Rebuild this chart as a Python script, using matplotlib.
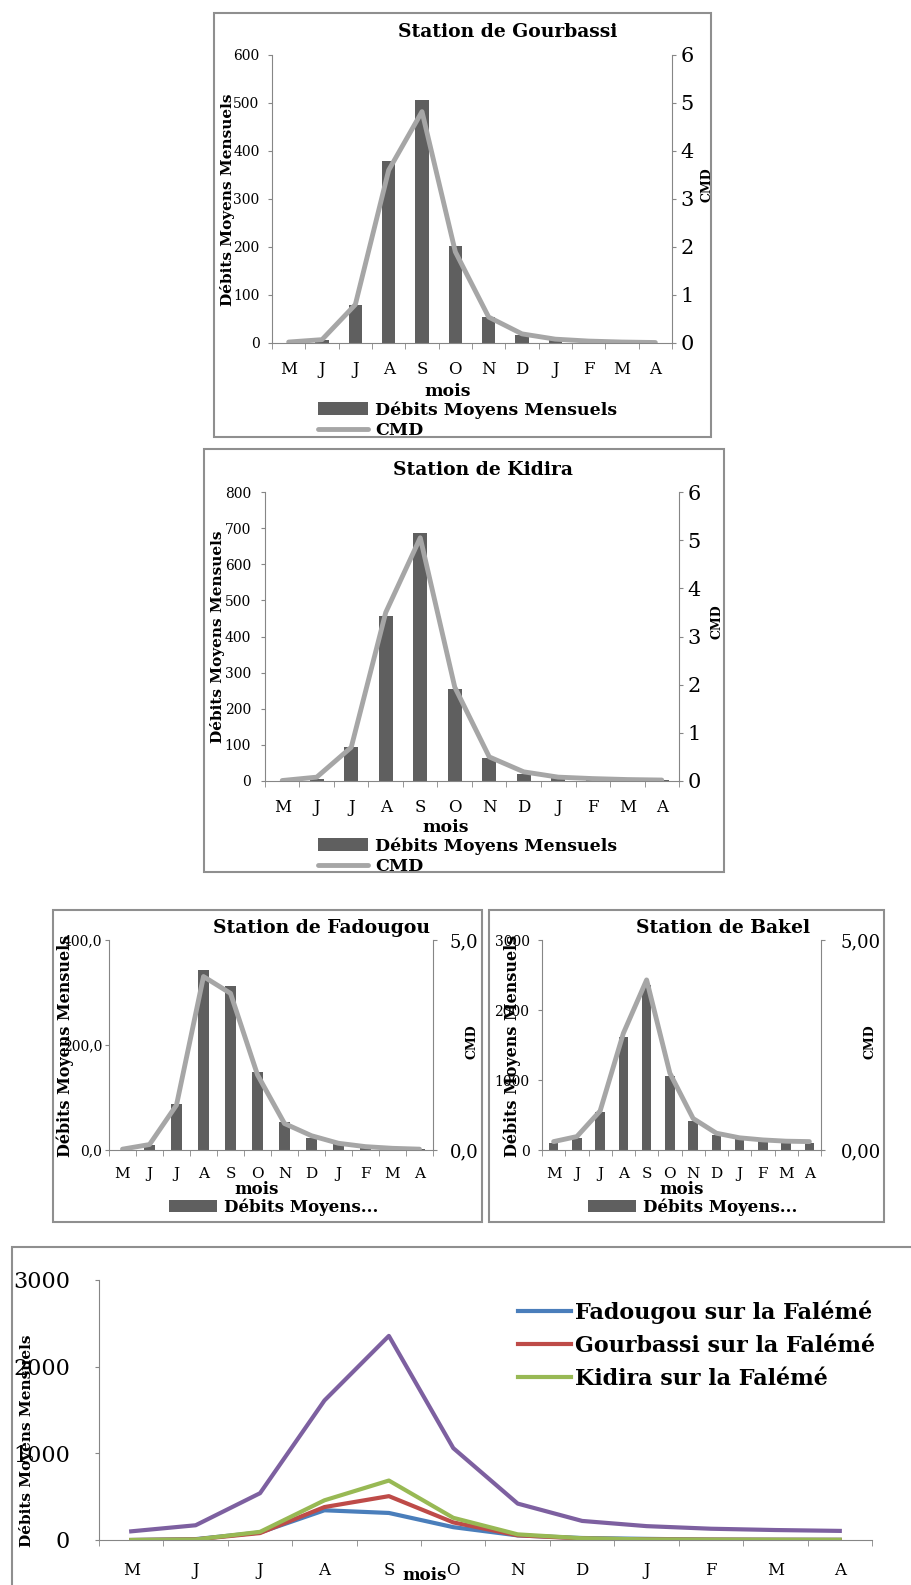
import matplotlib
matplotlib.use("Agg")
import matplotlib.pyplot as plt
from matplotlib.patches import Rectangle

plt.rcParams['font.family'] = ['DejaVu Serif']

# ---- data ----
mois = ['M', 'J', 'J', 'A', 'S', 'O', 'N', 'D', 'J', 'F', 'M', 'A']

q_gourbassi = [0, 7, 80, 380, 506, 203, 54, 17, 7, 4, 2, 1]
cmd_gourbassi = [0.02, 0.07, 0.8, 3.6, 4.82, 1.9, 0.54, 0.19, 0.08, 0.04, 0.02, 0.01]

q_kidira = [0, 6, 94, 458, 686, 256, 65, 20, 7, 4, 3, 2]
cmd_kidira = [0.01, 0.08, 0.7, 3.5, 5.05, 1.95, 0.5, 0.19, 0.08, 0.05, 0.03, 0.02]

q_fadougou = [0, 10, 87, 343, 312, 148, 53, 23, 13, 5, 3, 2]
cmd_fadougou = [0.02, 0.13, 1.07, 4.13, 3.73, 1.79, 0.63, 0.34, 0.16, 0.08, 0.04, 0.02]

q_bakel = [100, 170, 540, 1610, 2355, 1060, 420, 220, 160, 130, 115, 105]
cmd_bakel = [0.2, 0.32, 0.93, 2.78, 4.05, 1.83, 0.75, 0.4, 0.29, 0.24, 0.21, 0.2]

W, H = 912, 1585
fig = plt.figure(figsize=(W / 100, H / 100), dpi=100)

GREY = '#868686'
BAR = '#5f5f5f'
CMDC = '#a6a6a6'


def box(x0, y0, x1, y1):
    return [x0 / W, 1 - y1 / H, (x1 - x0) / W, (y1 - y0) / H]


def frame(x0, y0, x1, y1):
    fig.add_artist(Rectangle((x0 / W, 1 - y1 / H), (x1 - x0) / W, (y1 - y0) / H,
                             transform=fig.transFigure, fill=False, ec='#8f8f8f', lw=1.5))


def txt(x, y, s, size, **kw):
    fig.text(x / W, 1 - y / H, s, fontsize=size, fontweight='bold', va='center', **kw)


def station(rect, q, cmd, qticks, qlabels, cticks, clabels, lsize, rsize, lpad, rpad, msize, mpad, lw):
    ax = fig.add_axes(box(*rect))
    x = range(len(mois))
    bars = ax.bar(x, q, width=0.4, color=BAR, zorder=2)
    ax.set_xlim(-0.5, 11.5)
    ax.set_ylim(qticks[0], qticks[-1])
    ax.set_yticks(qticks)
    ax.set_yticklabels(qlabels)
    ax.set_xticks(list(x))
    ax.set_xticklabels(mois)
    ax.set_xticks([i - 0.5 for i in range(13)], minor=True)
    ax.tick_params(axis='x', which='major', length=0, labelsize=msize, pad=mpad)
    ax.tick_params(axis='x', which='minor', length=4.5, color=GREY, direction='out')
    ax.tick_params(axis='y', length=3, color=GREY, labelsize=lsize, pad=lpad)
    ax.spines['top'].set_visible(False)
    ax.spines['right'].set_visible(False)
    for s in ('left', 'bottom'):
        ax.spines[s].set_color(GREY)
    ax2 = ax.twinx()
    line, = ax2.plot(list(x), cmd, color=CMDC, lw=lw, solid_capstyle='round', solid_joinstyle='round')
    ax2.set_ylim(cticks[0], cticks[-1])
    ax2.set_yticks(cticks)
    ax2.set_yticklabels(clabels)
    ax2.tick_params(axis='y', length=3, color=GREY, labelsize=rsize, pad=rpad)
    for s in ('top', 'left', 'bottom'):
        ax2.spines[s].set_visible(False)
    ax2.spines['right'].set_color(GREY)
    return ax, bars, line


def legend(ax, handles, labels, x, y, size, hl, ls=0.2):
    ax.legend(handles, labels, loc='center left', bbox_to_anchor=(x / W, 1 - y / H),
              bbox_transform=fig.transFigure, frameon=False, borderpad=0, borderaxespad=0,
              handlelength=hl, handletextpad=0.4, labelspacing=ls,
              prop={'weight': 'bold', 'size': size})


# ---- Station de Gourbassi ----
frame(214, 13, 711, 437)
ax, b, l = station((272, 55, 672, 343), q_gourbassi, cmd_gourbassi,
                   list(range(0, 700, 100)), [str(v) for v in range(0, 700, 100)],
                   list(range(0, 7)), [str(v) for v in range(0, 7)],
                   10, 15, 6, 3, 12, 13, 3.5)
txt(508, 32, 'Station de Gourbassi', 13.5, ha='center')
txt(228, 200, 'Débits Moyens Mensuels', 11, ha='center', rotation=90)
txt(707, 185, 'CMD', 9, ha='center', rotation=90)
txt(448, 392, 'mois', 12.5, ha='center')
legend(ax, [b, l], ['Débits Moyens Mensuels', 'CMD'], 318, 420, 12.5, 2.9)

# ---- Station de Kidira ----
frame(204, 449, 724, 872)
ax, b, l = station((265, 492, 679, 781), q_kidira, cmd_kidira,
                   list(range(0, 900, 100)), [str(v) for v in range(0, 900, 100)],
                   list(range(0, 7)), [str(v) for v in range(0, 7)],
                   10, 15, 7, 3, 12, 13, 3.5)
txt(483, 470, 'Station de Kidira', 13.5, ha='center')
txt(218, 637, 'Débits Moyens Mensuels', 11, ha='center', rotation=90)
txt(717, 622, 'CMD', 9, ha='center', rotation=90)
txt(446, 828, 'mois', 12.5, ha='center')
legend(ax, [b, l], ['Débits Moyens Mensuels', 'CMD'], 318, 856, 12.5, 2.9)

# ---- Station de Fadougou ----
frame(53, 910, 482, 1222)
ax, b, l = station((109, 940, 433, 1150), q_fadougou, cmd_fadougou,
                   [0, 200, 400], ['0,0', '200,0', '400,0'],
                   [0, 5], ['0,0', '5,0'],
                   10, 13, 2, 9, 11, 12, 3.5)
txt(430, 928, 'Station de Fadougou', 13.5, ha='right')
txt(65, 1046, 'Débits Moyens Mensuels', 11.5, ha='center', rotation=90)
txt(472, 1042, 'CMD', 9, ha='center', rotation=90)
txt(257, 1190, 'mois', 12, ha='center')
legend(ax, [b], ['Débits Moyens...'], 169, 1207, 12, 2.9)

# ---- Station de Bakel ----
frame(489, 910, 884, 1222)
ax, b, l = station((542, 940, 821, 1150), q_bakel, cmd_bakel,
                   [0, 1000, 2000, 3000], ['0', '1000', '2000', '3000'],
                   [0, 5], ['0,00', '5,00'],
                   10, 13, 6, 11, 11, 12, 3.5)
txt(810, 928, 'Station de Bakel', 13.5, ha='right')
txt(512, 1046, 'Débits Moyens Mensuels', 11.5, ha='center', rotation=90)
txt(870, 1042, 'CMD', 9, ha='center', rotation=90)
txt(682, 1190, 'mois', 12, ha='center')
legend(ax, [b], ['Débits Moyens...'], 588, 1207, 12, 2.9)

# ---- comparison of the four stations ----
frame(12, 1247, 930, 1600)
ax = fig.add_axes(box(99, 1280, 872, 1540))
x = range(len(mois))
l1, = ax.plot(x, q_fadougou, color='#4a7ebb', lw=3)
l2, = ax.plot(x, q_gourbassi, color='#be4b48', lw=3)
l3, = ax.plot(x, q_kidira, color='#98b954', lw=3)
ax.plot(x, q_bakel, color='#7d60a0', lw=3)
ax.set_xlim(-0.5, 11.5)
ax.set_ylim(0, 3000)
ax.set_yticks([0, 1000, 2000, 3000])
ax.set_xticks(list(x))
ax.set_xticklabels(mois)
ax.set_xticks([i - 0.5 for i in range(13)], minor=True)
ax.tick_params(axis='x', which='major', length=0, labelsize=12, pad=16)
ax.tick_params(axis='x', which='minor', length=4.5, color=GREY)
ax.tick_params(axis='y', length=3, color=GREY, labelsize=16, pad=18)
for s in ('top', 'right'):
    ax.spines[s].set_visible(False)
for s in ('left', 'bottom'):
    ax.spines[s].set_color(GREY)
txt(27, 1441, 'Débits Moyens Mensuels', 11, ha='center', rotation=90)
txt(425, 1576, 'mois', 12, ha='center')
ax.legend([l1, l2, l3], ['Fadougou sur la Falémé', 'Gourbassi sur la Falémé', 'Kidira sur la Falémé'],
          loc='upper left', bbox_to_anchor=(518 / W, 1 - 1300 / H), bbox_transform=fig.transFigure,
          frameon=False, borderpad=0, borderaxespad=0, handlelength=2.4, handletextpad=0.15,
          labelspacing=0.5, prop={'weight': 'bold', 'size': 16})

fig.savefig('out.png', dpi=100)
